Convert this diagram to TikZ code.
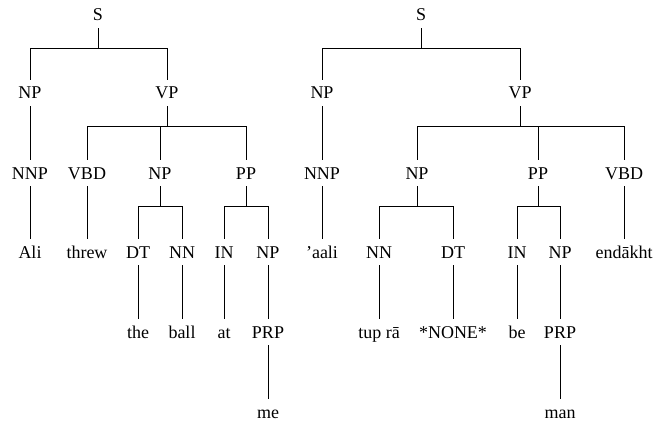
\documentclass[tikz,border=0pt]{standalone}
\usepackage{fontspec}
\setmainfont{Liberation Serif}
\begin{document}
\begin{tikzpicture}[x=1pt,y=1pt,
  lab/.style={inner sep=0pt, minimum height=26pt, text height=12.5pt, text depth=0.5pt,
              font=\fontsize{18}{20}\selectfont},
  edge/.style={draw, line width=0.8pt},
  br/.style={edge}]
\useasboundingbox (0,0) rectangle (655,-425);
% ---------------- English tree ----------------
\node[lab] (s1)    at (98,-15)   {S};
\node[lab] (np1)   at (30,-93)   {NP};
\node[lab] (vp1)   at (167,-93)  {VP};
\node[lab] (nnp1)  at (30,-173)  {NNP};
\node[lab] (vbd1)  at (87,-173)  {VBD};
\node[lab] (npb1)  at (160,-173) {NP};
\node[lab] (pp1)   at (246,-173) {PP};
\node[lab] (ali)   at (30,-252)  {Ali};
\node[lab] (threw) at (87,-252)  {threw};
\node[lab] (dt1)   at (138,-252) {DT};
\node[lab] (nn1)   at (182,-252) {NN};
\node[lab] (in1)   at (224,-252) {IN};
\node[lab] (npc1)  at (268,-252) {NP};
\node[lab] (the)   at (138,-332) {the};
\node[lab] (ball)  at (182,-332) {ball};
\node[lab] (at)    at (224,-332) {at};
\node[lab] (prp1)  at (268,-332) {PRP};
\node[lab] (me)    at (268,-412) {me};
% branching edges
\foreach \p/\c in {s1/np1, s1/vp1, vp1/vbd1, vp1/npb1, vp1/pp1,
                   npb1/dt1, npb1/nn1, pp1/in1, pp1/npc1}
  \draw[br] (\p.south) -- ++(0,-20) -| (\c.north);
% unary edges
\foreach \p/\c in {np1/nnp1, nnp1/ali, vbd1/threw, dt1/the, nn1/ball,
                   in1/at, npc1/prp1, prp1/me}
  \draw[edge] (\p.south) -- (\c.north);
% ---------------- Persian tree ----------------
\node[lab] (s2)    at (421,-15)  {S};
\node[lab] (np2)   at (322,-93)  {NP};
\node[lab] (vp2)   at (520,-93)  {VP};
\node[lab] (nnp2)  at (322,-173) {NNP};
\node[lab] (npb2)  at (417,-173) {NP};
\node[lab] (pp2)   at (538,-173) {PP};
\node[lab] (vbd2)  at (624,-173) {VBD};
\node[lab] (aali)  at (322,-252) {’aali};
\node[lab] (nn2)   at (379,-252) {NN};
\node[lab] (dt2)   at (453,-252) {DT};
\node[lab] (in2)   at (517,-252) {IN};
\node[lab] (npc2)  at (560,-252) {NP};
\node[lab] (endakht) at (624,-252) {endākht};
\node[lab] (tupra) at (379,-332) {tup rā};
\node[lab] (none)  at (453,-332) {*NONE*};
\node[lab] (be)    at (517,-332) {be};
\node[lab] (prp2)  at (560,-332) {PRP};
\node[lab] (man)   at (560,-412) {man};
\foreach \p/\c in {s2/np2, s2/vp2, vp2/npb2, vp2/pp2, vp2/vbd2,
                   npb2/nn2, npb2/dt2, pp2/in2, pp2/npc2}
  \draw[br] (\p.south) -- ++(0,-20) -| (\c.north);
\foreach \p/\c in {np2/nnp2, nnp2/aali, vbd2/endakht, nn2/tupra, dt2/none,
                   in2/be, npc2/prp2, prp2/man}
  \draw[edge] (\p.south) -- (\c.north);
\end{tikzpicture}
\end{document}
